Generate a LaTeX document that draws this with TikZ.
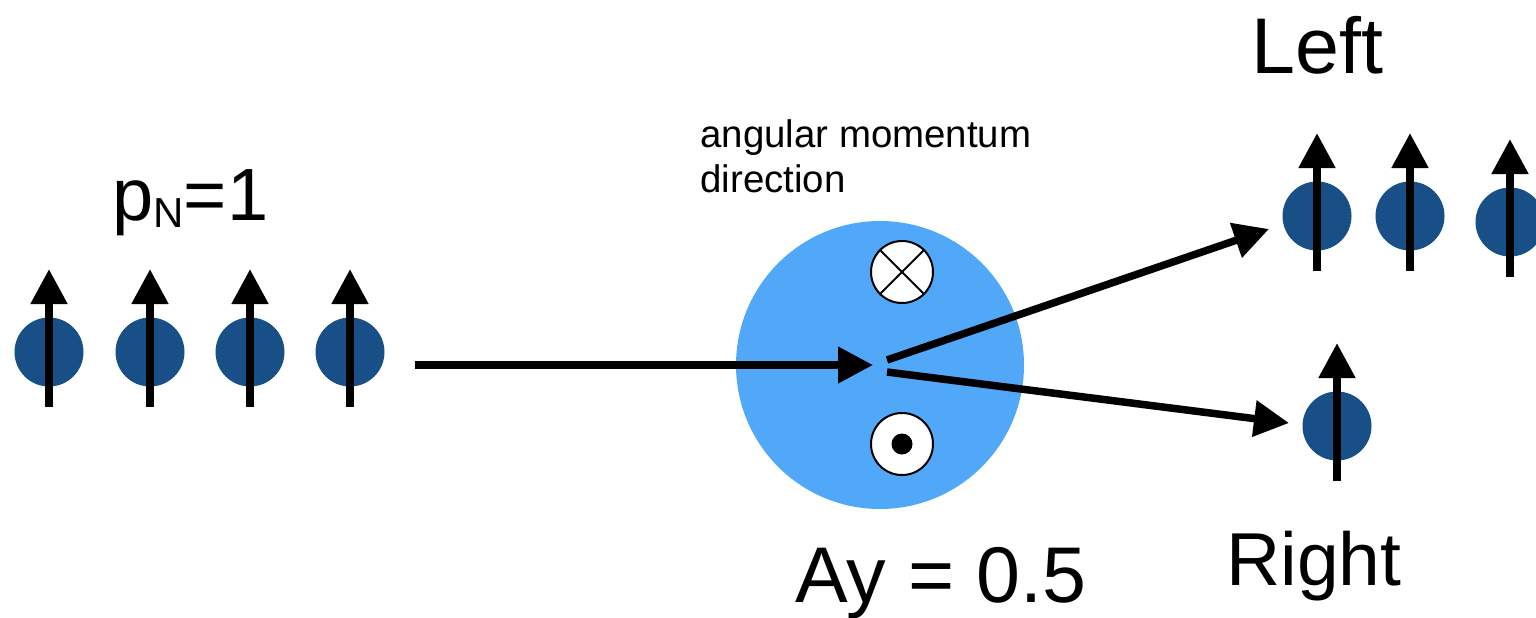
\documentclass[tikz,border=0pt]{standalone}
\usepackage{fontspec}
\setmainfont{Liberation Sans}
\usetikzlibrary{arrows.meta}
\definecolor{spinblue}{RGB}{24,79,134}
\definecolor{targetblue}{RGB}{81,167,248}

\begin{document}
\begin{tikzpicture}[x=0.5pt,y=-0.5pt,
  ball/.style={circle,fill=spinblue,minimum size=34.5pt,inner sep=0pt},
  spin/.style={line width=4pt,-{Triangle[length=17.5pt,width=17.5pt]}},
  beam/.style={line width=3.75pt,-{Triangle[length=17.5pt,width=17.5pt]}},
  axis/.style={circle,draw,fill=white,line width=1pt,minimum size=31pt,inner sep=0pt},
  txt/.style={inner sep=0pt,anchor=base west}]
  \useasboundingbox (0,0) rectangle (1536,617);
  \clip (0,0) rectangle (1536,617);

  % polarised beam
  \foreach \x [count=\i] in {49,150,250,350}
    \node[ball] (in\i) at (\x,352) {};
  \node[txt,font=\fontsize{37}{40}\selectfont] (pol) at (112,220)
    {p\raisebox{-3.5pt}{\fontsize{21}{21}\selectfont N}=1};

  % target
  \node[circle,fill=targetblue,minimum size=144pt,inner sep=0pt] (target) at (880,365) {};
  \node[axis] (into) at (902,272) {};
  \draw[line width=1pt] (into.45) -- (into.225) (into.135) -- (into.315);
  \node[axis] (outof) at (902,444) {};
  \fill (outof.center) circle (10.5);
  \node[txt,font=\fontsize{19.2}{22}\selectfont] (amom) at (700,147) {angular momentum};
  \node[txt,font=\fontsize{19.2}{22}\selectfont] (amdir) at (700,192) {direction};
  \node[txt,font=\fontsize{39.5}{42}\selectfont] (ay) at (795,602) {Ay = 0.5};

  % scattered spins
  \node[ball] (left1) at (1317,216) {};
  \node[ball] (left2) at (1410,216) {};
  \node[ball] (left3) at (1510,222) {};
  \node[ball] (right1) at (1337,426) {};
  \node[txt,font=\fontsize{39.5}{42}\selectfont] (lefttxt) at (1251,73) {Left};
  \node[txt,font=\fontsize{37.5}{40}\selectfont] (righttxt) at (1226,585) {Right};

  \foreach \b in {in1,in2,in3,in4,left1,left2,left3,right1}
    \draw[spin] (\b.center) ++(0,55) -- ++(0,-138);

  % beam paths
  \coordinate (src) at (415,365);
  \coordinate (hit) at (873,365);
  \coordinate (split1) at (887,360);
  \coordinate (split2) at (887,372);
  \coordinate (toleft) at (1269,229);
  \coordinate (toright) at (1289,423);
  \draw[beam] (src) -- (hit);
  \draw[beam] (split1) -- (toleft);
  \draw[beam] (split2) -- (toright);
\end{tikzpicture}
\end{document}
